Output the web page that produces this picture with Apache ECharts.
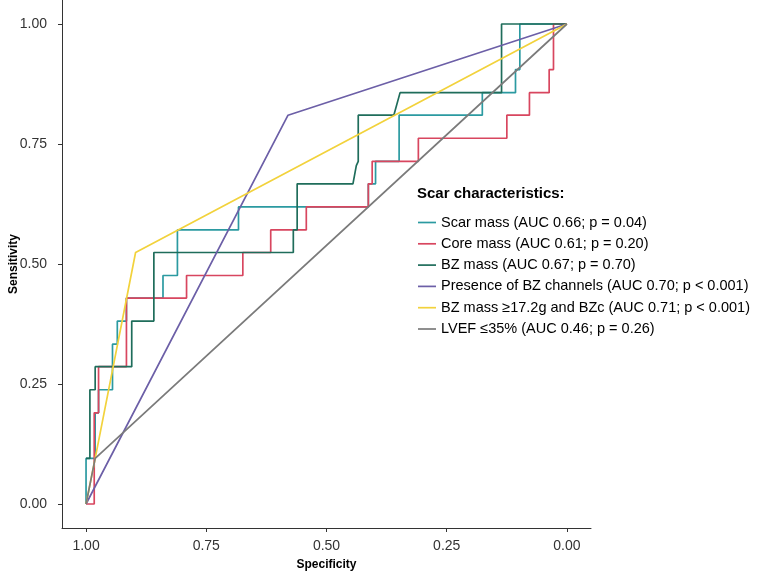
<!DOCTYPE html>
<html>
<head>
<meta charset="utf-8">
<script src="https://cdn.jsdelivr.net/npm/echarts@6/dist/echarts.min.js"></script>
<style>
html,body{margin:0;padding:0;background:#fff;}
#chart{width:757px;height:572px;}
</style>
</head>
<body>
<div id="chart"></div>
<script>
// Tick values / labels
const tickValues = [0, 0.25, 0.5, 0.75, 1];
const tickLabels = ['0.00', '0.25', '0.50', '0.75', '1.00'];

// Series names
const seriesNames = [
  'Scar mass (AUC 0.66; p = 0.04)',
  'Core mass (AUC 0.61; p = 0.20)',
  'BZ mass (AUC 0.67; p = 0.70)',
  'Presence of BZ channels (AUC 0.70; p < 0.001)',
  'BZ mass \u226517.2g and BZc (AUC 0.71; p < 0.001)',
  'LVEF \u226435% (AUC 0.46; p = 0.26)'
];

// Scar mass
const scarSpec = [1, 1, 0.981, 0.981, 0.974, 0.974, 0.945, 0.945, 0.935, 0.935, 0.916, 0.916, 0.84, 0.84, 0.81, 0.81, 0.683, 0.683, 0.413, 0.413, 0.398, 0.398, 0.349, 0.349, 0.176, 0.176, 0.107, 0.107, 0.098, 0.098, 0];
const scarSens = [0, 0.095, 0.095, 0.190, 0.190, 0.238, 0.238, 0.333, 0.333, 0.381, 0.381, 0.429, 0.429, 0.476, 0.476, 0.571, 0.571, 0.619, 0.619, 0.667, 0.667, 0.714, 0.714, 0.810, 0.810, 0.857, 0.857, 0.905, 0.905, 1, 1];

// Core mass
const coreSpec = [1, 0.983, 0.983, 0.974, 0.974, 0.916, 0.916, 0.791, 0.791, 0.674, 0.674, 0.616, 0.616, 0.542, 0.542, 0.413, 0.413, 0.405, 0.405, 0.309, 0.309, 0.125, 0.125, 0.078, 0.078, 0.037, 0.037, 0.028, 0.028, 0];
const coreSens = [0, 0, 0.190, 0.190, 0.286, 0.286, 0.429, 0.429, 0.476, 0.476, 0.524, 0.524, 0.571, 0.571, 0.619, 0.619, 0.667, 0.667, 0.714, 0.714, 0.762, 0.762, 0.810, 0.810, 0.857, 0.857, 0.905, 0.905, 1, 1];

// BZ mass
const bzSpec = [1, 0.992, 0.992, 0.981, 0.981, 0.905, 0.905, 0.859, 0.859, 0.569, 0.569, 0.561, 0.561, 0.445, 0.438, 0.434, 0.434, 0.360, 0.347, 0.136, 0.136, 0];
const bzSens = [0.095, 0.095, 0.238, 0.238, 0.286, 0.286, 0.381, 0.381, 0.524, 0.524, 0.571, 0.571, 0.667, 0.667, 0.705, 0.714, 0.810, 0.810, 0.857, 0.857, 1, 1];

// Presence of BZ channels
const chanSpec = [1, 0.58, 0];
const chanSens = [0, 0.81, 1];

// BZ mass >=17.2g and BZc
const comboSpec = [1, 0.981, 0.897, 0];
const comboSens = [0, 0.095, 0.524, 1];

// LVEF <=35%
const lvefSpec = [1, 0.981, 0];
const lvefSens = [0, 0.095, 1];

const colors = ['#2b9aa1', '#d8465f', '#1f6d5b', '#6c5fa7', '#f2d23c', '#7b7b7b'];

const specs = [scarSpec, coreSpec, bzSpec, chanSpec, comboSpec, lvefSpec];
const senss = [scarSens, coreSens, bzSens, chanSens, comboSens, lvefSens];

const series = seriesNames.map((name, i) => ({
  name: name,
  type: 'line',
  symbol: 'none',
  animation: false,
  data: specs[i].map((s, j) => [s, senss[i][j]]),
  lineStyle: { color: colors[i], width: 1.7 },
  itemStyle: { color: colors[i] },
  emphasis: { disabled: true }
}));

const FONT = '"Liberation Sans", Arial, Helvetica, sans-serif';

const chart = echarts.init(document.getElementById('chart'), null, { renderer: 'canvas' });
chart.setOption({
  backgroundColor: '#ffffff',
  animation: false,
  title: {
    text: 'Scar characteristics:',
    left: 417,
    top: 186,
    padding: 0,
    textStyle: { fontFamily: FONT, fontSize: 15, fontWeight: 'bold', color: '#000' }
  },
  legend: {
    orient: 'vertical',
    left: 418,
    top: 215,
    padding: 0,
    itemWidth: 18,
    itemHeight: 15,
    itemGap: 6.3,
    icon: 'path://M0,0 L18,0 L18,1.7 L0,1.7 Z',
    textStyle: { fontFamily: FONT, fontSize: 14.5, color: '#000' },
    data: seriesNames.map((n, i) => ({ name: n, itemStyle: { color: colors[i] } })),
    selectedMode: false
  },
  grid: { left: 62, top: 0, width: 529, height: 528, containLabel: false, outerBoundsMode: 'none' },
  xAxis: {
    type: 'value',
    inverse: true,
    min: -0.05,
    max: 1.05,
    name: 'Specificity',
    nameLocation: 'middle',
    nameGap: 31,
    nameTextStyle: { fontFamily: FONT, fontSize: 12, fontWeight: 'bold', color: '#000' },
    axisLine: { show: true, onZero: false, lineStyle: { color: '#333', width: 1 } },
    axisTick: { show: true, length: 4, customValues: tickValues, lineStyle: { color: '#333' } },
    axisLabel: {
      customValues: tickValues,
      formatter: v => tickLabels[tickValues.indexOf(Math.round(v * 100) / 100)],
      fontFamily: FONT, fontSize: 14, color: '#333', margin: 11
    },
    splitLine: { show: false }
  },
  yAxis: {
    type: 'value',
    min: -0.05,
    max: 1.05,
    name: 'Sensitivity',
    nameLocation: 'middle',
    nameGap: 42,
    nameRotate: 90,
    nameMoveOverlap: false,
    nameTextStyle: { fontFamily: FONT, fontSize: 12, fontWeight: 'bold', color: '#000' },
    axisLine: { show: true, onZero: false, lineStyle: { color: '#333', width: 1 } },
    axisTick: { show: true, length: 4, customValues: tickValues, lineStyle: { color: '#333' } },
    axisLabel: {
      customValues: tickValues,
      formatter: v => tickLabels[tickValues.indexOf(Math.round(v * 100) / 100)],
      fontFamily: FONT, fontSize: 14, color: '#333', margin: 15
    },
    splitLine: { show: false }
  },
  series: series
});
</script>
</body>
</html>
